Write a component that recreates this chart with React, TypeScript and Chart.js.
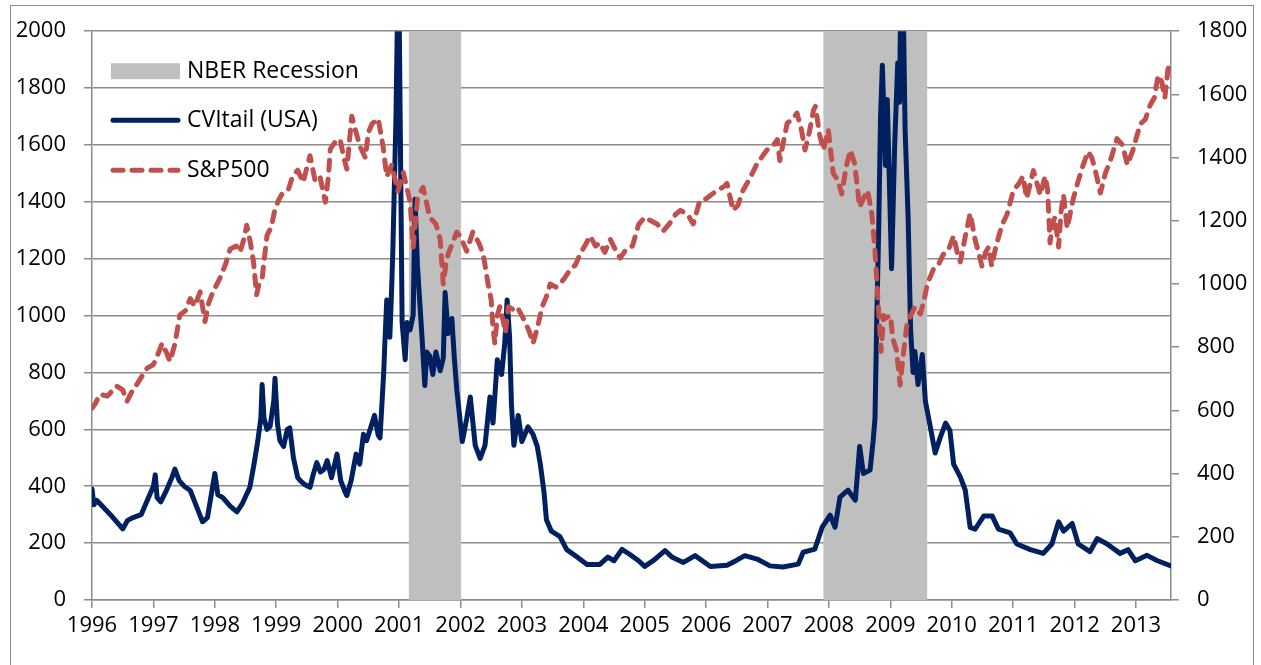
import React, { useEffect, useRef } from "react";
import { Chart, registerables } from "chart.js";

Chart.register(...registerables);

// Decimal-year dates and values
const cviDates = [
  1996.0, 1996.03, 1996.08, 1996.17, 1996.3, 1996.42, 1996.5, 1996.58, 1996.67, 1996.8, 1996.92,
  1997.0, 1997.03, 1997.06, 1997.12, 1997.2, 1997.3, 1997.35, 1997.42, 1997.5, 1997.6, 1997.7, 1997.8, 1997.88, 1997.95,
  1998.0, 1998.05, 1998.13, 1998.25, 1998.36, 1998.45, 1998.57, 1998.64, 1998.7, 1998.75, 1998.77, 1998.8, 1998.85, 1998.9, 1998.96, 1998.98,
  1999.02, 1999.06, 1999.12, 1999.18, 1999.22, 1999.28, 1999.35, 1999.39, 1999.47, 1999.55, 1999.6, 1999.66, 1999.72, 1999.78, 1999.83, 1999.9, 1999.99,
  2000.05, 2000.12, 2000.15, 2000.22, 2000.3, 2000.36, 2000.42, 2000.47, 2000.53, 2000.6, 2000.66, 2000.69, 2000.75, 2000.77, 2000.8, 2000.85, 2000.88, 2000.9, 2000.95, 2000.98,
  2001.0, 2001.03, 2001.05, 2001.1, 2001.13, 2001.18, 2001.23, 2001.26, 2001.3, 2001.37, 2001.42, 2001.45, 2001.5, 2001.55, 2001.6, 2001.67, 2001.72, 2001.75, 2001.8, 2001.86, 2001.9, 2001.94,
  2002.03, 2002.1, 2002.16, 2002.24, 2002.32, 2002.4, 2002.48, 2002.53, 2002.6, 2002.67, 2002.72, 2002.76, 2002.8, 2002.83, 2002.87, 2002.94,
  2003.0, 2003.1, 2003.18, 2003.25, 2003.3, 2003.36, 2003.4, 2003.48, 2003.62, 2003.73, 2003.9,
  2004.06, 2004.27, 2004.4, 2004.5, 2004.63, 2004.76, 2004.9,
  2005.0, 2005.15, 2005.33, 2005.45, 2005.63, 2005.82,
  2006.07, 2006.34, 2006.5, 2006.63, 2006.83,
  2007.04, 2007.25, 2007.5, 2007.58, 2007.77, 2007.89,
  2008.02, 2008.1, 2008.18, 2008.31, 2008.43, 2008.5, 2008.56, 2008.67, 2008.72, 2008.75, 2008.78, 2008.81, 2008.84, 2008.87, 2008.92, 2008.95,
  2009.02, 2009.07, 2009.12, 2009.15, 2009.17, 2009.21, 2009.24, 2009.29, 2009.33, 2009.37, 2009.4, 2009.45, 2009.52, 2009.57, 2009.65, 2009.73, 2009.81, 2009.9, 2009.97,
  2010.03, 2010.14, 2010.22, 2010.3, 2010.38, 2010.52, 2010.66, 2010.76, 2010.95,
  2011.06, 2011.28, 2011.49, 2011.63, 2011.74, 2011.82, 2011.96,
  2012.06, 2012.25, 2012.37, 2012.53, 2012.74, 2012.87, 2012.99,
  2013.18, 2013.35, 2013.57,
];
const cviValues = [
  390, 335, 350, 330, 300, 270, 250, 280, 290, 300, 360,
  400, 440, 360, 345, 380, 430, 460, 420, 400, 385, 330, 275, 290, 380,
  445, 370, 360, 330, 310, 340, 396, 480, 560, 640, 758, 640, 600, 610, 700, 780,
  620, 560, 540, 600, 605, 500, 430, 420, 405, 396, 440, 483, 450, 460, 490, 430, 513,
  420, 380, 367, 420, 513, 478, 583, 560, 600, 649, 580, 570, 800, 911, 1055, 924, 1100, 1238, 1700, 2150,
  2100, 1435, 976, 845, 976, 950, 1002, 1409, 1173, 937, 754, 872, 858, 793, 872, 806, 850, 1081, 937, 990, 850, 740,
  557, 636, 714, 544, 498, 544, 714, 622, 845, 793, 900, 1055, 924, 688, 544, 649,
  557, 609, 583, 540, 478, 380, 282, 242, 223, 177, 151,
  125, 125, 151, 138, 178, 160, 138,
  118, 140, 174, 150, 132, 156,
  118, 122, 140, 156, 144,
  120, 116, 126, 168, 179, 256,
  298, 256, 362, 386, 351, 540, 445, 457, 560, 640, 1000, 1300, 1700, 1880, 1528, 1760,
  1165, 1597, 1888, 1750, 2150, 2100, 1655, 1340, 950, 800, 874, 758, 863, 700, 609, 517, 570, 622, 596,
  478, 432, 386, 255, 249, 295, 295, 249, 236,
  197, 177, 164, 197, 275, 242, 269,
  197, 170, 216, 197, 164, 177, 138,
  157, 138, 120,
];

const spxDates = [
  1996.0, 1996.05, 1996.13, 1996.25, 1996.4, 1996.5, 1996.57, 1996.65, 1996.73, 1996.85, 1996.9,
  1997.0, 1997.1, 1997.14, 1997.22, 1997.27, 1997.35, 1997.43, 1997.52, 1997.6, 1997.67, 1997.76, 1997.84, 1997.9, 1997.97,
  1998.08, 1998.17, 1998.25, 1998.35, 1998.41, 1998.47, 1998.52, 1998.58, 1998.63, 1998.68, 1998.72, 1998.77, 1998.85, 1998.92, 1998.98,
  1999.05, 1999.11, 1999.2, 1999.27, 1999.35, 1999.44, 1999.5, 1999.55, 1999.63, 1999.71, 1999.8, 1999.85, 1999.88, 1999.96,
  2000.04, 2000.1, 2000.15, 2000.23, 2000.3, 2000.36, 2000.45, 2000.5, 2000.56, 2000.66, 2000.74, 2000.8, 2000.88, 2000.98,
  2001.07, 2001.18, 2001.23, 2001.3, 2001.39, 2001.5, 2001.6, 2001.67, 2001.72, 2001.76, 2001.8, 2001.94,
  2002.0, 2002.1, 2002.2, 2002.3, 2002.37, 2002.45, 2002.5, 2002.53, 2002.56, 2002.6, 2002.64, 2002.7, 2002.73, 2002.78, 2002.85, 2002.92,
  2003.0, 2003.05, 2003.12, 2003.18, 2003.25, 2003.33, 2003.4, 2003.46, 2003.55, 2003.62, 2003.7, 2003.79, 2003.87, 2003.95,
  2004.05, 2004.11, 2004.2, 2004.27, 2004.35, 2004.44, 2004.52, 2004.6, 2004.7, 2004.8, 2004.9,
  2005.0, 2005.1, 2005.2, 2005.3, 2005.4, 2005.5, 2005.58, 2005.7, 2005.79, 2005.9,
  2006.0, 2006.1, 2006.18, 2006.3, 2006.34, 2006.44, 2006.52, 2006.6, 2006.7, 2006.83, 2006.99,
  2007.1, 2007.16, 2007.2, 2007.27, 2007.32, 2007.4, 2007.48, 2007.55, 2007.61, 2007.68, 2007.75, 2007.78, 2007.85, 2007.91, 2007.99,
  2008.07, 2008.14, 2008.21, 2008.28, 2008.35, 2008.42, 2008.5, 2008.56, 2008.63, 2008.7, 2008.75, 2008.8, 2008.85, 2008.89, 2008.93,
  2009.0, 2009.04, 2009.1, 2009.16, 2009.2, 2009.27, 2009.33, 2009.4, 2009.49, 2009.55, 2009.6, 2009.7, 2009.78, 2009.86, 2009.95,
  2010.03, 2010.1, 2010.14, 2010.22, 2010.3, 2010.38, 2010.45, 2010.49, 2010.55, 2010.6, 2010.65, 2010.72, 2010.82, 2010.9,
  2011.0, 2011.1, 2011.16, 2011.22, 2011.33, 2011.44, 2011.52, 2011.56, 2011.6, 2011.64, 2011.68, 2011.74, 2011.78, 2011.82, 2011.88, 2011.98,
  2012.05, 2012.14, 2012.22, 2012.28, 2012.33, 2012.42, 2012.5, 2012.58, 2012.69, 2012.78, 2012.86, 2012.95,
  2013.07, 2013.15, 2013.23, 2013.3, 2013.36, 2013.42, 2013.47, 2013.52, 2013.57,
];
const spxValues = [
  607, 620, 651, 645, 677, 665, 629, 660, 682, 720, 734,
  745, 790, 812, 780, 755, 810, 902, 915, 954, 930, 975, 881, 940, 975,
  1017, 1060, 1111, 1120, 1101, 1140, 1186, 1130, 1070, 966, 1000, 1017, 1154, 1180, 1238,
  1270, 1290, 1300, 1343, 1360, 1322, 1370, 1406, 1330, 1343, 1259, 1340, 1427, 1450,
  1458, 1400, 1364, 1531, 1480, 1437, 1400, 1479, 1507, 1523, 1435, 1340, 1377, 1293,
  1353, 1259, 1117, 1271, 1306, 1211, 1190, 1141, 1000, 1060, 1095, 1164,
  1150, 1104, 1164, 1130, 1095, 1000, 950, 859, 812, 900, 928, 880, 846, 928, 920, 928,
  900, 881, 850, 812, 860, 928, 960, 1000, 990, 1000, 1020, 1046, 1060, 1095,
  1130, 1152, 1120, 1130, 1100, 1141, 1110, 1082, 1110, 1120, 1188,
  1211, 1200, 1190, 1167, 1190, 1220, 1233, 1220, 1190, 1265,
  1270, 1285, 1296, 1310, 1318, 1233, 1250, 1296, 1330, 1381, 1424,
  1440, 1457, 1391, 1460, 1509, 1520, 1541, 1490, 1424, 1480, 1551, 1562, 1470, 1424, 1488,
  1350, 1330, 1285, 1370, 1424, 1380, 1243, 1270, 1296, 1220, 1104, 945, 787, 900, 892,
  900, 828, 790, 680, 760, 871, 900, 928, 905, 950, 999, 1046, 1060, 1093, 1110,
  1152, 1090, 1070, 1150, 1224, 1140, 1090, 1057, 1100, 1117, 1057, 1120, 1188, 1220,
  1294, 1320, 1341, 1271, 1359, 1282, 1341, 1300, 1130, 1190, 1211, 1117, 1230, 1282, 1177, 1271,
  1320, 1377, 1419, 1400, 1366, 1288, 1350, 1389, 1460, 1440, 1377, 1424,
  1507, 1520, 1566, 1590, 1660, 1640, 1589, 1680, 1696,
];

// NBER recessions (decimal years)
const recessionStarts = [2001.16, 2007.91];
const recessionEnds = [2002.01, 2009.6];

const legendLabels = ["NBER Recession", "CVItail (USA)", "S&P500"];

const NAVY = "#002060";
const RED = "#C0504D";
const GRAY = "#BFBFBF";
const AXIS = "#8c8c8c";
const FONT = "'Open Sans'";

const recessionPlugin = {
  id: "recessions",
  beforeDatasetsDraw(chart: any) {
    const { ctx, chartArea, scales } = chart;
    ctx.save();
    ctx.fillStyle = GRAY;
    for (let i = 0; i < recessionStarts.length; i++) {
      const x0 = scales.x.getPixelForValue(recessionStarts[i]);
      const x1 = scales.x.getPixelForValue(recessionEnds[i]);
      ctx.fillRect(x0, chartArea.top, x1 - x0, chartArea.bottom - chartArea.top);
    }
    ctx.restore();
  },
};

const legendPlugin = {
  id: "insideLegend",
  afterDatasetsDraw(chart: any) {
    const { ctx, chartArea } = chart;
    const sx = chartArea.left + 19;
    const ex = chartArea.left + 88;
    const tx = chartArea.left + 95;
    const rows = [chartArea.top + 40, chartArea.top + 89, chartArea.top + 139];
    ctx.save();
    ctx.fillStyle = GRAY;
    ctx.fillRect(sx, rows[0] - 8, ex - sx, 16);
    ctx.strokeStyle = NAVY;
    ctx.lineWidth = 5;
    ctx.lineCap = "round";
    ctx.beginPath();
    ctx.moveTo(sx + 2, rows[1]);
    ctx.lineTo(ex - 2, rows[1]);
    ctx.stroke();
    ctx.strokeStyle = RED;
    ctx.setLineDash([10, 9]);
    ctx.beginPath();
    ctx.moveTo(sx + 2, rows[2]);
    ctx.lineTo(ex - 2, rows[2]);
    ctx.stroke();
    ctx.setLineDash([]);
    ctx.fillStyle = "#000";
    ctx.font = `23px ${FONT}`;
    ctx.textBaseline = "middle";
    ctx.textAlign = "left";
    legendLabels.forEach((t, i) => ctx.fillText(t, tx, rows[i]));
    ctx.restore();
  },
};

const plain = (v: any) => String(v);

export default function App() {
  const ref = useRef<HTMLCanvasElement | null>(null);
  useEffect(() => {
    if (!ref.current) return;
    const cvi = cviDates.map((x, i) => ({ x, y: cviValues[i] }));
    const spx = spxDates.map((x, i) => ({ x, y: spxValues[i] }));
    const tickFont = { family: FONT, size: 22 };
    const chart = new Chart(ref.current, {
      type: "line",
      data: {
        datasets: [
          {
            label: legendLabels[2],
            data: spx,
            yAxisID: "y1",
            borderColor: RED,
            borderWidth: 5,
            borderDash: [10, 9],
            borderCapStyle: "round",
            borderJoinStyle: "round",
            pointRadius: 0,
            tension: 0,
          },
          {
            label: legendLabels[1],
            data: cvi,
            yAxisID: "y",
            borderColor: NAVY,
            borderWidth: 5,
            borderCapStyle: "round",
            borderJoinStyle: "round",
            pointRadius: 0,
            tension: 0,
          },
        ],
      },
      options: {
        animation: false,
        responsive: false,
        devicePixelRatio: 1,
        layout: { padding: { left: 0, right: 0, top: 28, bottom: 0 } },
        plugins: { legend: { display: false }, tooltip: { enabled: false } },
        scales: {
          x: {
            type: "linear",
            min: 1996,
            max: 2013.57,
            afterFit: (s: any) => {
              s.height = 65;
            },
            ticks: {
              stepSize: 1,
              includeBounds: false,
              autoSkip: false,
              maxRotation: 0,
              color: "#000",
              font: tickFont,
              padding: 5,
              callback: plain,
            },
            grid: { drawOnChartArea: false, tickLength: 8, color: AXIS, lineWidth: 1.5 },
            border: { color: AXIS, width: 1.5 },
          },
          y: {
            position: "left",
            min: 0,
            max: 2000,
            afterFit: (s: any) => {
              s.width = 92;
            },
            ticks: { stepSize: 200, color: "#000", font: tickFont, padding: 18, callback: plain },
            grid: { color: AXIS, lineWidth: 1.5, tickLength: 8 },
            border: { color: AXIS, width: 1.5 },
          },
          y1: {
            position: "right",
            min: 0,
            max: 1800,
            afterFit: (s: any) => {
              s.width = 90;
            },
            ticks: { stepSize: 200, color: "#000", font: tickFont, padding: 18, callback: plain },
            grid: { drawOnChartArea: false, color: AXIS, lineWidth: 1.5, tickLength: 8 },
            border: { color: AXIS, width: 1.5 },
          },
        },
      },
      plugins: [recessionPlugin, legendPlugin],
    } as any);
    return () => chart.destroy();
  }, []);

  return (
    <div style={{ position: "fixed", left: 0, top: 0, width: 1261, height: 665, background: "#fff", overflow: "hidden" }}>
      <div
        style={{
          position: "absolute",
          left: 10,
          top: 5,
          width: 1242,
          height: 720,
          border: `1px solid ${AXIS}`,
          boxSizing: "content-box",
        }}
      />
      <canvas
        ref={ref}
        width={1261}
        height={665}
        style={{ position: "absolute", left: 0, top: 0, width: 1261, height: 665 }}
      />
    </div>
  );
}
